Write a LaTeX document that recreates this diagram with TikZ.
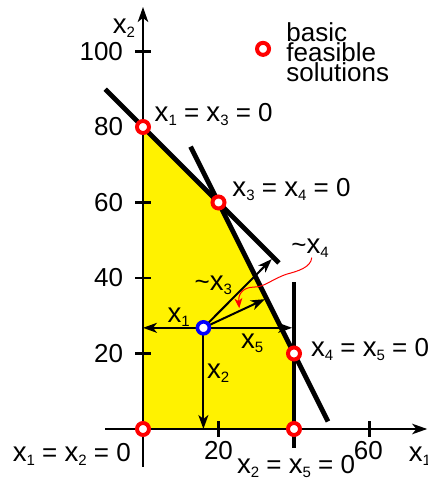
\documentclass[tikz,border=0pt]{standalone}
\usepackage{fontspec}
\setmainfont{Liberation Sans}
\usetikzlibrary{arrows.meta}
\newcommand\xsb[1]{{\fontsize{13.8}{10}\selectfont x}\raisebox{-2pt}{\fontsize{7.5}{8}\selectfont #1}}
\newcommand\tld{\textasciitilde}
\begin{document}
\begin{tikzpicture}[x=1.8875pt,y=1.8875pt,
  lbl/.style={inner sep=0pt,font=\fontsize{13}{10}\selectfont},
  cons/.style={line width=2.4pt},
  axis/.style={line width=1.2pt},
  vec/.style={line width=1pt,-{Stealth[length=7pt,width=5pt,inset=2pt]}},
  bfs/.style={circle,draw=red,fill=white,line width=2pt,minimum size=6pt,inner sep=0pt},
  cur/.style={circle,draw=blue,fill=white,line width=1.8pt,minimum size=6pt,inner sep=0pt},
  hint/.style={red,line width=0.5pt,-{Stealth[length=5pt,width=4pt,inset=1.5pt]}}]
\useasboundingbox (-37.88,-14.04) rectangle (75.5,113.64);
% feasible region
\fill[yellow] (0,0) -- (0,80) -- (20,60) -- (40,20) -- (40,0) -- cycle;
% axes
\coordinate (xa0) at (-10,0);
\coordinate (xa1) at (75.3,0);
\coordinate (ya0) at (0,-10);
\coordinate (ya1) at (0,111.8);
\draw[axis,-{Stealth[length=7.5pt,width=5.2pt,inset=2pt]}] (xa0) -- (xa1);
\draw[axis,-{Stealth[length=7.5pt,width=5.2pt,inset=2pt]}] (ya0) -- (ya1);
\foreach \v in {20,40,60,100} \draw[axis] (-2,\v) -- (2,\v);
\foreach \v in {20,60} \draw[axis] (\v,-2) -- (\v,2);
% tick labels
\node[lbl,anchor=base east] (t100) at (-5.2,97.7) {100};
\node[lbl,anchor=base east] (t80) at (-5.2,77.7) {80};
\node[lbl,anchor=base east] (t60) at (-5.2,57.7) {60};
\node[lbl,anchor=base east] (t40) at (-5.2,37.7) {40};
\node[lbl,anchor=base east] (t20) at (-5.2,17.7) {20};
\node[lbl,anchor=base] (u20) at (20,-8.2) {20};
\node[lbl,anchor=base] (u60) at (59.7,-8.2) {60};
\node[lbl,anchor=base west] (ax1) at (70.3,-8.7) {\xsb{1}};
\node[lbl,anchor=base west] (ax2) at (-8.1,104.8) {\xsb{2}};
% constraint lines
\coordinate (c3a) at (-10,90);
\coordinate (c3b) at (36,44);
\coordinate (c4a) at (12.6,74.8);
\coordinate (c4b) at (49,2);
\coordinate (c5a) at (40,-5);
\coordinate (c5b) at (40,39);
\draw[cons] (c3a) -- (c3b);
\draw[cons] (c4a) -- (c4b);
\draw[cons] (c5a) -- (c5b);
% direction vectors
\coordinate (P) at (16,26.8);
\coordinate (e1) at (0,26.8);
\coordinate (e2) at (16,0);
\coordinate (e5) at (39.5,26.8);
\coordinate (e3) at (34.1,45.0);
\coordinate (e4) at (32.3,34.4);
\draw[vec] (P) -- (e1);
\draw[vec] (P) -- (e2);
\draw[vec] (P) -- (e5);
\draw[vec] (P) -- (e3);
\draw[vec] (P) -- (e4);
\node[cur] (p) at (P) {};
% vector labels
\node[lbl,anchor=base west] (l1) at (6.4,28.1) {\xsb{1}};
\node[lbl,anchor=base west] (l2) at (16.9,13.5) {\xsb{2}};
\node[lbl,anchor=base west] (l5) at (25.9,21.4) {\xsb{5}};
\node[lbl,anchor=base west] (l3) at (13.6,36.8) {\tld\xsb{3}};
\node[lbl,anchor=base west] (l4) at (39.2,46.5) {\tld\xsb{4}};
\coordinate (h0) at (44.7,45.4);
\coordinate (h1) at (38,41);
\coordinate (h2) at (29.5,37.6);
\draw[hint] (h0) .. controls (44.5,42.8) and (41,41.8) .. (h1)
  .. controls (34,39.6) and (32.2,37.6) .. (h2)
  .. controls (26,37.6) and (25.2,35.2) .. (25.5,32);
% basic feasible solutions
\node[bfs] (v13) at (0,80) {};
\node[bfs] (v34) at (20,60) {};
\node[bfs] (v45) at (40,20) {};
\node[bfs] (v12) at (0,0) {};
\node[bfs] (v25) at (40,0) {};
\node[lbl,anchor=base west] (n13) at (3.0,81.4) {\xsb{1} = \xsb{3} = 0};
\node[lbl,anchor=base west] (n34) at (23.6,61.7) {\xsb{3} = \xsb{4} = 0};
\node[lbl,anchor=base west] (n45) at (44.4,19.3) {\xsb{4} = \xsb{5} = 0};
\node[lbl,anchor=base west] (n12) at (-34.6,-8.7) {\xsb{1} = \xsb{2} = 0};
\node[lbl,anchor=base west] (n25) at (24.8,-11.9) {\xsb{2} = \xsb{5} = 0};
% legend
\node[bfs] (leg) at (31.8,100.7) {};
\node[lbl,anchor=north west,align=left] (legt) at (37.9,107.7) {basic\\feasible\\solutions};
\end{tikzpicture}
\end{document}
